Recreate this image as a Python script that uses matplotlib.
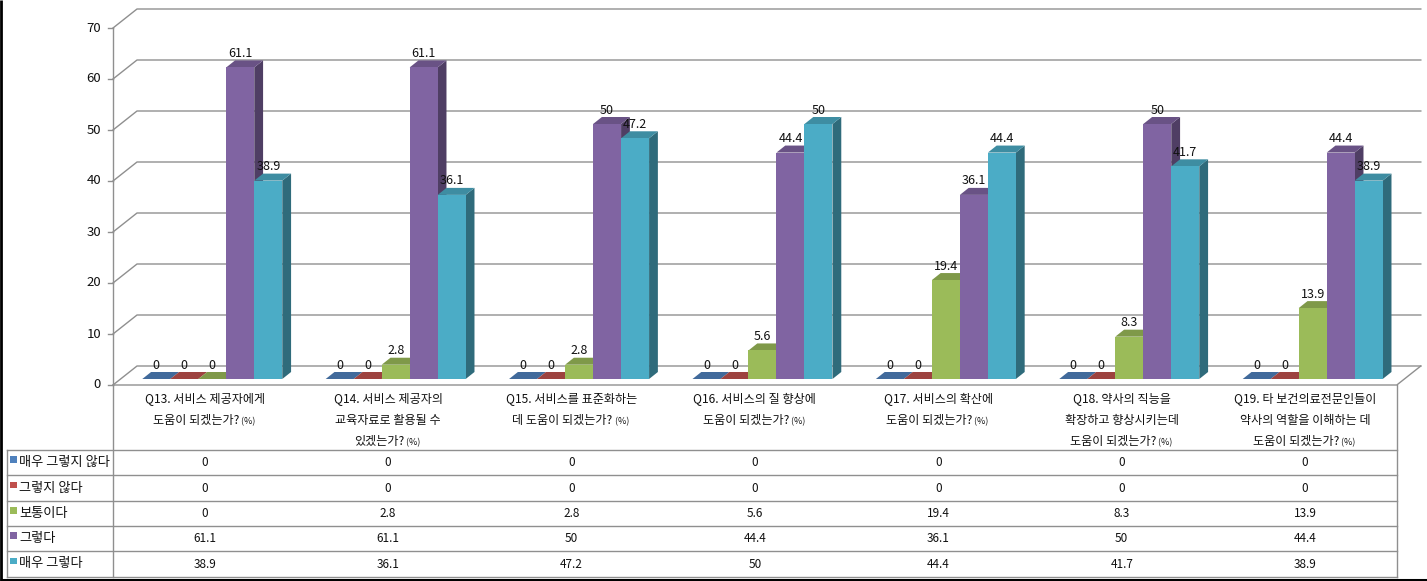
import matplotlib
matplotlib.use('Agg')
import matplotlib.pyplot as plt
from matplotlib.patches import Polygon, Rectangle
import numpy as np

plt.rcParams['font.family'] = ['Noto Sans CJK KR', 'DejaVu Sans']

# ---- data -------------------------------------------------------------
series_names = ["매우 그렇지 않다", "그렇지 않다", "보통이다", "그렇다", "매우 그렇다"]
category_lines = [
    ["Q13. 서비스 제공자에게", "도움이 되겠는가?"],
    ["Q14. 서비스 제공자의", "교육자료로 활용될 수", "있겠는가?"],
    ["Q15. 서비스를 표준화하는", "데 도움이 되겠는가?"],
    ["Q16. 서비스의 질 향상에", "도움이 되겠는가?"],
    ["Q17. 서비스의 확산에", "도움이 되겠는가?"],
    ["Q18. 약사의 직능을", "확장하고 향상시키는데", "도움이 되겠는가?"],
    ["Q19. 타 보건의료전문인들이", "약사의 역할을 이해하는 데", "도움이 되겠는가?"],
]
very_disagree = [0, 0, 0, 0, 0, 0, 0]
disagree = [0, 0, 0, 0, 0, 0, 0]
neutral = [0, 2.8, 2.8, 5.6, 19.4, 8.3, 13.9]
agree = [61.1, 61.1, 50, 44.4, 36.1, 50, 44.4]
very_agree = [38.9, 36.1, 47.2, 50, 44.4, 41.7, 38.9]
all_series = [very_disagree, disagree, neutral, agree, very_agree]
y_ticks = [0, 10, 20, 30, 40, 50, 60, 70]

colors = ["#4F81BD", "#C0504D", "#9BBB59", "#8064A2", "#4BACC6"]


def shade(hex_color, f):
    rgb = np.array(matplotlib.colors.to_rgb(hex_color))
    return tuple(rgb * f)


def fmt(v):
    return f"{v:g}"


# ---- layout (pixels) --------------------------------------------------
W, H = 1427, 581
PX_CAT = 183.4          # pixels per category
PX_VAL = 5.1            # pixels per value unit
AX_LEFT, AX_BOTTOM = 113, 385
n_cat = len(category_lines)

wall_dx, wall_dy = 24 / PX_CAT, 19 / PX_VAL
front_dx, front_dy = wall_dx * 6 / 19, wall_dy * 6 / 19
bar_ddx, bar_ddy = 8.8 / PX_CAT, 7 / PX_VAL
bar_w = 28 / PX_CAT

fig = plt.figure(figsize=(W / 100, H / 100), dpi=100)

# overlay axes in pixel coordinates for frame, table and labels
pax = fig.add_axes([0, 0, 1, 1])
pax.set_xlim(0, W)
pax.set_ylim(H, 0)
pax.axis('off')

# chart axes in data coordinates
ax = fig.add_axes([AX_LEFT / W, (H - AX_BOTTOM) / H, (W - AX_LEFT) / W, 376 / H])
ax.set_xlim(0, (W - AX_LEFT) / PX_CAT)
ax.set_ylim(0, 376 / PX_VAL)
ax.axis('off')

grid_c = "#8f8f8f"
txt_c = "#111111"
lw = 1.0

# back wall gridlines, ticks and tick labels
for v in y_ticks:
    ax.plot([0, wall_dx, n_cat + wall_dx], [v, v + wall_dy, v + wall_dy],
            color=grid_c, lw=lw, clip_on=False, zorder=1)
    ax.plot([-5 / PX_CAT, 0], [v, v], color=grid_c, lw=lw, clip_on=False, zorder=1)
    ax.text(-12 / PX_CAT, v, str(v), ha='right', va='center', fontsize=9.5,
            color=txt_c)

# floor and value axis
ax.plot([0, n_cat, n_cat + wall_dx], [0, 0, wall_dy], color=grid_c, lw=lw,
        clip_on=False, zorder=1)
ax.plot([0, 0], [0, 70], color=grid_c, lw=lw, clip_on=False, zorder=1)

# 3D-looking bars
centers = np.arange(n_cat) + 0.5
for s, (vals, col) in enumerate(zip(all_series, colors)):
    lefts = centers - 2.5 * bar_w + s * bar_w + front_dx
    z = 2 + 2 * s
    for x0, h in zip(lefts, vals):
        b = front_dy
        top = Polygon([(x0, b + h), (x0 + bar_w, b + h),
                       (x0 + bar_w + bar_ddx, b + h + bar_ddy),
                       (x0 + bar_ddx, b + h + bar_ddy)],
                      closed=True, facecolor=shade(col, 0.82), edgecolor='none',
                      zorder=z)
        side = Polygon([(x0 + bar_w, b), (x0 + bar_w + bar_ddx, b + bar_ddy),
                        (x0 + bar_w + bar_ddx, b + h + bar_ddy), (x0 + bar_w, b + h)],
                       closed=True, facecolor=shade(col, 0.62), edgecolor='none',
                       zorder=z)
        ax.add_patch(side)
        ax.add_patch(top)
    ax.bar(lefts, vals, width=bar_w, bottom=front_dy, align='edge', color=col,
           edgecolor='none', zorder=z + 1)
    for x0, h in zip(lefts, vals):
        ax.annotate(fmt(h), (x0 + bar_w / 2, front_dy + h + bar_ddy),
                    xytext=(0, 0.3), textcoords='offset points', ha='center',
                    va='bottom', fontsize=9, color=txt_c, zorder=20)

# ---- category labels and data table (pixel coordinates) --------------
right_px = AX_LEFT + n_cat * PX_CAT
row_tops = [450, 475, 501, 526, 551, 577]
tc = "#8f8f8f"

pax.plot([AX_LEFT, AX_LEFT], [AX_BOTTOM, row_tops[-1]], color=tc, lw=lw)
pax.plot([right_px, right_px], [AX_BOTTOM, row_tops[-1]], color=tc, lw=lw)
for yy in row_tops:
    pax.plot([7, right_px], [yy, yy], color=tc, lw=lw)
pax.plot([7, 7], [row_tops[0], row_tops[-1]], color=tc, lw=lw)

for i, lines in enumerate(category_lines):
    cx = AX_LEFT + PX_CAT * (i + 0.5)
    for j, line in enumerate(lines):
        y = 399 + 21.5 * j
        if j == len(lines) - 1:
            t = pax.text(cx - 9, y, line, ha='center', va='center', fontsize=8.7,
                         color=txt_c)
            pax.annotate(" (%)", xy=(1, 0.08), xycoords=t, ha='left', va='bottom',
                         fontsize=6.5, color=txt_c)
        else:
            pax.text(cx, y, line, ha='center', va='center', fontsize=8.7,
                     color=txt_c)

for r, (name, vals, col) in enumerate(zip(series_names, all_series, colors)):
    yc = (row_tops[r] + row_tops[r + 1]) / 2
    pax.add_patch(Rectangle((10, yc - 6.5), 6.5, 6.5, facecolor=col,
                            edgecolor='none'))
    pax.text(19, yc, name, ha='left', va='center', fontsize=9.5, color=txt_c)
    for i, v in enumerate(vals):
        cx = AX_LEFT + PX_CAT * (i + 0.5)
        pax.text(cx, yc, fmt(v), ha='center', va='center', fontsize=8.5,
                 color=txt_c)

# black outer frame (left and bottom)
pax.plot([1, 1], [0, H], color="black", lw=2, solid_capstyle='butt')
pax.plot([0, W], [579.5, 579.5], color="black", lw=2.2, solid_capstyle='butt')

fig.savefig("out.png", dpi=100)
